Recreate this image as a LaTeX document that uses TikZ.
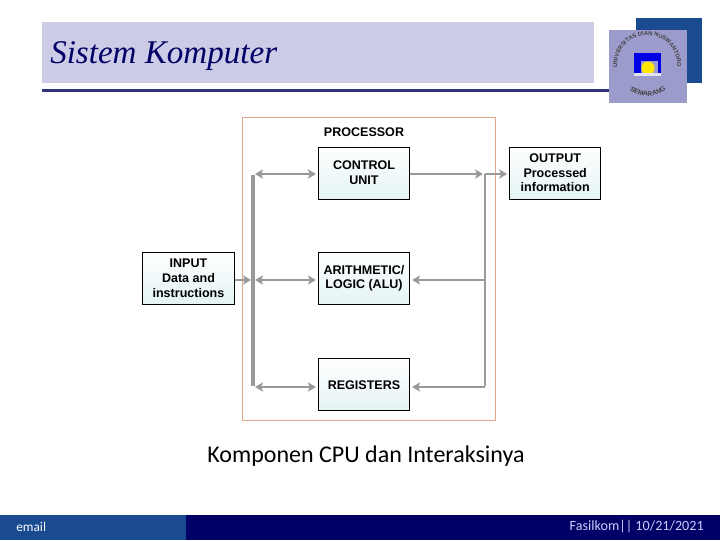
\documentclass[tikz,border=0pt]{standalone}
\usepackage{fontspec}
\setmainfont{Carlito}
\newfontfamily\titlefont{Liberation Serif}
\newfontfamily\boxfont{Liberation Sans}
\usetikzlibrary{positioning, arrows.meta, decorations.text}
\definecolor{bandlilac}{HTML}{CCCCE6}
\definecolor{rulenavy}{HTML}{333380}
\definecolor{cornerblue}{HTML}{1A4A90}
\definecolor{footnavy}{HTML}{000066}
\definecolor{logolilac}{HTML}{9C9CCC}
\definecolor{framepeach}{HTML}{E0A888}
\definecolor{wiregray}{HTML}{999999}
\definecolor{datelilac}{HTML}{CCCCFF}
\definecolor{boxpale}{HTML}{E4F3F5}
\tikzset{
    unitbox/.style={draw=black, line width=0.65pt, top color=white, bottom color=boxpale,
        minimum width=68.5pt, minimum height=39pt, inner sep=0pt, align=center,
        font=\boxfont\bfseries\fontsize{9.4pt}{11pt}\selectfont},
    wire/.style={draw=wiregray, line width=1.7pt, shorten >=1.5pt},
    bus/.style={draw=wiregray, line width=#1},
    seal/.style 2 args={postaction={decorate}, decoration={text along path, text align=center,
        text={|\boxfont\bfseries\fontsize{#1}{5pt}\selectfont\color{black!75}|#2}}}
}
\begin{document}
\begin{tikzpicture}[x=0.75pt, y=-0.75pt, >={Stealth[length=6pt, width=7pt, inset=1.5pt]}]
    \useasboundingbox (0,0) rectangle (720,540);

    % header
    \fill[cornerblue] (636,18) rectangle (702,83);
    \fill[bandlilac] (42,22) rectangle (594,83);
    \fill[rulenavy] (42,89) rectangle (636,92);
    \node (title) [anchor=base west, inner sep=0pt, text=footnavy, font=\titlefont\itshape\fontsize{24.8pt}{28pt}\selectfont] at (50,63) {Sistem Komputer};

    % logo
    \fill[logolilac] (609,30) rectangle (687,103);
    \fill[blue!90!black] (634,53) rectangle (661,73);
    \fill[logolilac] (641,61) rectangle (658,73);
    \fill[yellow!90!orange] (648,68) circle (6.5);
    \fill[white!70!logolilac] (634,73) rectangle (661,76);
    \path[seal={4.3pt}{UNIVERSITAS DIAN NUSWANTORO}] (620,78) arc[start angle=155, end angle=385, radius=30];
    \path[seal={5pt}{SEMARANG}] (626,87) arc[start angle=135, end angle=45, radius=31];

    % processor
    \node (frame) [draw=framepeach, line width=0.65pt, minimum width=189.75pt, minimum height=227.25pt, inner sep=0pt] at (368.5,268.5) {};
    \node (proc) [font=\boxfont\bfseries\fontsize{9.4pt}{11pt}\selectfont, inner sep=0pt] at (364,132) {PROCESSOR};

    \node (CU) [unitbox] at (364,173) {CONTROL\\UNIT};
    \node (ALU) [unitbox, below=39.25pt of CU] {ARITHMETIC/\\LOGIC (ALU)};
    \node (REG) [unitbox, below=40.25pt of ALU] {REGISTERS};
    \node (INPUT) [unitbox, left=62.5pt of ALU] {INPUT\\Data and\\instructions};
    \node (OUTPUT) [unitbox, right=74.25pt of CU] {OUTPUT\\Processed\\information};

    \coordinate (LT) at (253,174);
    \coordinate (LM) at (253,280);
    \coordinate (LL) at (253,387);
    \coordinate (RT) at (485,174);
    \coordinate (RM) at (485,280);
    \coordinate (RL) at (485,387);

    \draw[bus=2.4pt] ([yshift=-1pt]LT) -- ([yshift=1pt]LL);
    \draw[bus=2pt] (RT) -- ([yshift=0.8pt]RL);

    \draw[wire, <->, shorten <=1.5pt] (LT) -- (LT -| CU.west);
    \draw[wire, <->, shorten <=1.5pt] (LM) -- (LM -| ALU.west);
    \draw[wire, <->, shorten <=1.5pt] (LL) -- (LL -| REG.west);
    \draw[wire, ->] (LM -| INPUT.east) -- (LM);
    \draw[wire, ->] (RT -| CU.east) -- (RT);
    \draw[wire, ->] (RT) -- (RT -| OUTPUT.west);
    \draw[wire, ->] (RM) -- (RM -| ALU.east);
    \draw[wire, ->] (RL) -- (RL -| REG.east);

    \node (caption) [font=\fontsize{18pt}{22pt}\selectfont, inner sep=0pt] at (366,456) {Komponen CPU dan Interaksinya};

    % footer
    \fill[footnavy] (0,515) rectangle (720,540);
    \fill[cornerblue] (0,515) rectangle (186,540);
    \node (mail) [anchor=west, inner sep=0pt, text=white, font=\fontsize{10pt}{12pt}\selectfont] at (16,527) {email};
    \node (date) [anchor=east, inner sep=0pt, text=datelilac, font=\fontsize{10.6pt}{12pt}\selectfont] at (704,527) {Fasilkom|| 10/21/2021};
\end{tikzpicture}
\end{document}
